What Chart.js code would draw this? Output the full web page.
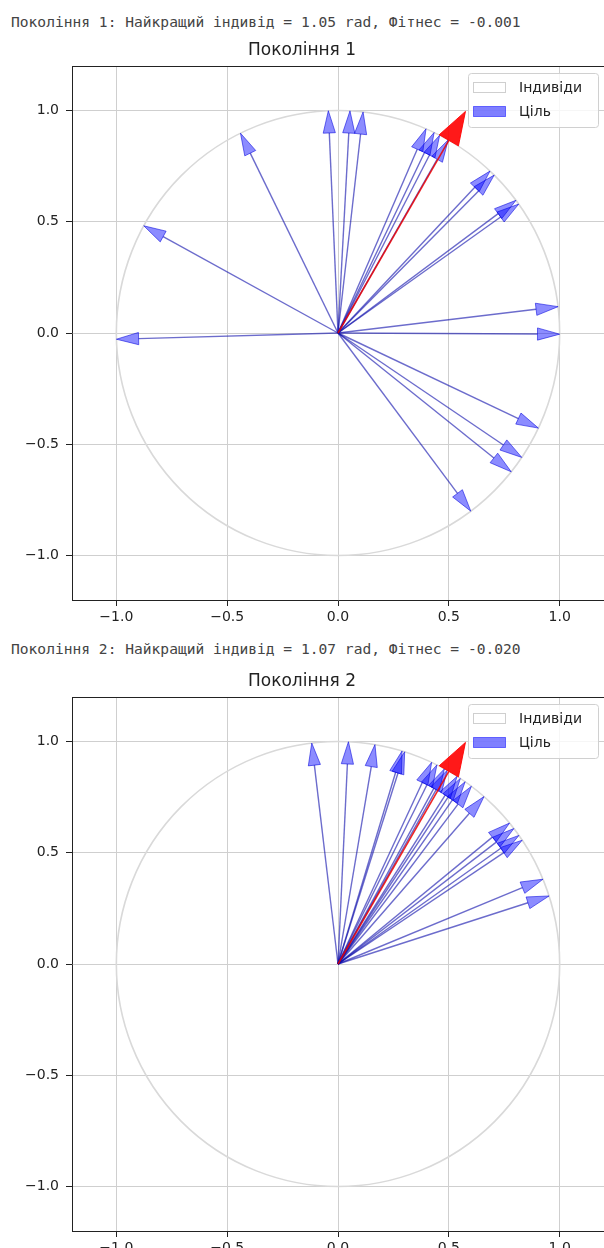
<!DOCTYPE html>
<html>
<head>
<meta charset="utf-8">
<script src="https://cdn.jsdelivr.net/npm/chart.js@4.4.1/dist/chart.umd.min.js"></script>
<style>
  html, body { margin: 0; padding: 0; background: #fff; }
  body { width: 604px; height: 1248px; overflow: hidden; position: relative; }
  .out { position: absolute; left: 11px; font-family: 'DejaVu Sans Mono', monospace; font-size: 14.6px; line-height: 17px; color: #444; white-space: pre; }
  .plot { position: absolute; left: 0; width: 604px; height: 610px; }
</style>
</head>
<body>
<div class="out" id="out1" style="top:13px"></div>
<div class="plot" style="top:30px"><canvas id="c1" width="604" height="610"></canvas></div>
<div class="out" id="out2" style="top:640px"></div>
<div class="plot" style="top:661px"><canvas id="c2" width="604" height="610"></canvas></div>
<script>
// values
const xTicks = [-1.0, -0.5, 0.0, 0.5, 1.0];
const yTicks = [-1.0, -0.5, 0.0, 0.5, 1.0];
const generations = [1, 2];
const bestAngles = [1.05, 1.07];      // rad
const fitnessValues = [-0.001, -0.020];
const targetAngleDeg = 60;
const gen1AnglesDeg = [92.5, 86.9, 83.5, 116.1, 151.2, 181.6, 66.6, 64.3, 62.7, 60.2,
                       46.7, 45.2, 36.6, 35.4, 6.8, -0.3, -25.3, -34.0, -38.6, -53.2];
const gen2AnglesDeg = [96.8, 87.3, 80.4, 73.2, 72.5, 65.0, 63.5, 61.3, 60.5, 57.5,
                       56.5, 55.0, 53.0, 48.8, 39.3, 37.5, 35.3, 33.8, 22.4, 17.8];
const legendLabels = ['Індивіди', 'Ціль'];

const FONT = "'DejaVu Sans', sans-serif";
const minus = v => (v < 0 ? '\u2212' : '') + Math.abs(v).toFixed(1);

// unit circle, drawn through the scales
const unitCircle = {
  id: 'unitCircle',
  beforeDatasetsDraw(chart) {
    const { ctx, chartArea: ca, scales: { x, y } } = chart;
    const cx = x.getPixelForValue(0), cy = y.getPixelForValue(0);
    ctx.save();
    ctx.beginPath();
    ctx.rect(ca.left, ca.top, ca.right - ca.left, ca.bottom - ca.top);
    ctx.clip();
    ctx.beginPath();
    ctx.ellipse(cx, cy, x.getPixelForValue(1) - cx, cy - y.getPixelForValue(1), 0, 0, Math.PI * 2);
    ctx.strokeStyle = '#d9d9d9';
    ctx.lineWidth = 1.6;
    ctx.stroke();
    ctx.restore();
  }
};

// arrow heads, one after each shaft
const arrowHeads = {
  id: 'arrowHeads',
  afterDatasetDraw(chart, args) {
    const ds = chart.data.datasets[args.index];
    if (!ds.head) return;
    const { ctx, scales: { x, y } } = chart;
    const [p0, p1] = ds.data;
    const len = Math.hypot(p1.x - p0.x, p1.y - p0.y);
    const ux = (p1.x - p0.x) / len, uy = (p1.y - p0.y) / len;
    const hw = ds.head.width / 2;
    const pts = [
      { x: p1.x - uy * hw, y: p1.y + ux * hw },
      { x: p1.x + ux * ds.head.length, y: p1.y + uy * ds.head.length },
      { x: p1.x + uy * hw, y: p1.y - ux * hw }
    ];
    ctx.save();
    ctx.beginPath();
    pts.forEach((p, i) => {
      const px = x.getPixelForValue(p.x), py = y.getPixelForValue(p.y);
      i ? ctx.lineTo(px, py) : ctx.moveTo(px, py);
    });
    ctx.closePath();
    ctx.fillStyle = ds.head.fill;
    ctx.strokeStyle = ds.head.stroke;
    ctx.lineWidth = 1;
    ctx.fill();
    ctx.stroke();
    ctx.restore();
  }
};

// top spine + legend box in the upper right corner
const frameLegend = {
  id: 'frameLegend',
  afterDraw(chart) {
    const { ctx, chartArea: ca } = chart;
    ctx.save();
    ctx.strokeStyle = '#222';
    ctx.lineWidth = 1;
    ctx.beginPath();
    ctx.moveTo(ca.left, ca.top + 0.5);
    ctx.lineTo(ca.right, ca.top + 0.5);
    ctx.stroke();

    const bx = ca.right - 136, by = ca.top + 7, bw = 130, bh = 54;
    ctx.beginPath();
    ctx.roundRect(bx + 0.5, by + 0.5, bw, bh, 3);
    ctx.fillStyle = 'rgba(255,255,255,0.8)';
    ctx.fill();
    ctx.strokeStyle = '#d0d0d0';
    ctx.stroke();

    const swatches = [
      { fill: '#ffffff', stroke: '#cfcfcf' },
      { fill: 'rgba(0,0,255,0.5)', stroke: 'rgba(0,0,255,0.5)' }
    ];
    ctx.font = '14px ' + FONT;
    ctx.textBaseline = 'middle';
    legendLabels.forEach((lab, i) => {
      const cy = by + 15 + i * 24;
      ctx.fillStyle = swatches[i].fill;
      ctx.strokeStyle = swatches[i].stroke;
      ctx.fillRect(bx + 5.5, cy - 5.5, 32, 10);
      ctx.strokeRect(bx + 5.5, cy - 5.5, 32, 10);
      ctx.fillStyle = '#222';
      ctx.fillText(lab, bx + 51, cy);
    });
    ctx.restore();
  }
};

function arrowDatasets(anglesDeg) {
  const blue = anglesDeg.map(a => {
    const r = a * Math.PI / 180;
    return {
      data: [{ x: 0, y: 0 }, { x: 0.9 * Math.cos(r), y: 0.9 * Math.sin(r) }],
      borderColor: 'rgba(10,10,170,0.6)',
      borderWidth: 1.4,
      head: { length: 0.1, width: 0.055, fill: 'rgba(0,0,255,0.45)', stroke: 'rgba(0,0,220,0.55)' }
    };
  });
  const t = targetAngleDeg * Math.PI / 180;
  const red = {
    data: [{ x: 0, y: 0 }, { x: Math.cos(t), y: Math.sin(t) }],
    borderColor: 'rgba(235,0,0,0.85)',
    borderWidth: 1.6,
    order: -1,
    head: { length: 0.15, width: 0.1, fill: 'rgba(255,0,0,0.9)', stroke: 'rgba(255,0,0,0.9)' }
  };
  return blue.concat([red]).map(d => Object.assign({ showLine: true, pointRadius: 0, fill: false }, d));
}

function axis(ticks, isX) {
  return {
    type: 'linear',
    min: -1.2,
    max: 1.2,
    afterBuildTicks: s => { s.ticks = ticks.map(v => ({ value: v })); },
    afterFit: s => { if (isX) s.height = 40; else s.width = 72; },
    grid: { color: '#cfcfcf', lineWidth: 1, tickColor: '#222', tickLength: 6, tickWidth: 1 },
    border: { display: true, color: '#222', width: 1 },
    ticks: {
      callback: v => minus(v),
      font: { family: FONT, size: 14 },
      color: '#222',
      padding: isX ? 3 : 7,
      autoSkip: false,
      maxRotation: 0
    }
  };
}

function makeChart(id, gen, angles) {
  return new Chart(document.getElementById(id), {
    type: 'scatter',
    data: { datasets: arrowDatasets(angles) },
    options: {
      responsive: false,
      animation: false,
      layout: { padding: 0 },
      scales: { x: axis(xTicks, true), y: axis(yTicks, false) },
      plugins: {
        legend: { display: false },
        tooltip: { enabled: false },
        title: {
          display: true,
          text: 'Покоління ' + gen,
          font: { family: FONT, size: 17, weight: 'normal' },
          color: '#222',
          padding: { top: 10.8, bottom: 4.8 }
        }
      }
    },
    plugins: [unitCircle, arrowHeads, frameLegend]
  });
}

generations.forEach((g, i) => {
  document.getElementById('out' + g).textContent =
    'Покоління ' + g + ': Найкращий індивід = ' + bestAngles[i].toFixed(2) +
    ' rad, Фітнес = ' + fitnessValues[i].toFixed(3);
});
makeChart('c1', 1, gen1AnglesDeg);
makeChart('c2', 2, gen2AnglesDeg);
</script>
</body>
</html>
